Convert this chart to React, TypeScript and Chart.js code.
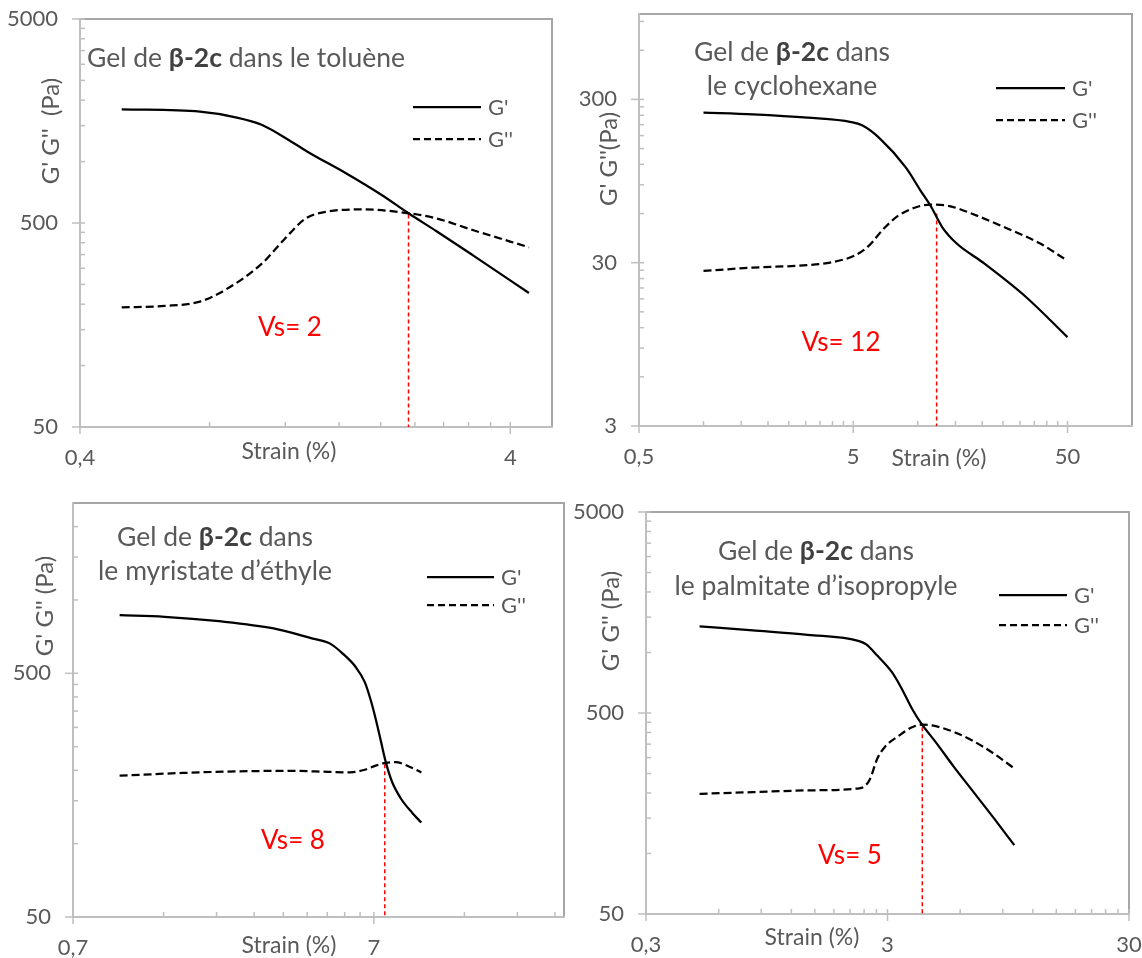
import React, { useEffect, useRef } from 'react';
import { Chart, registerables } from 'chart.js';
Chart.register(...registerables);

const FONT = 'Lato, "Noto Sans", "DejaVu Sans", sans-serif';
const TEXT = '#595959';

// ---------- Panel 1 : toluène ----------
const p1StrainGp = [0.5, 0.76, 0.92, 1.06, 1.24, 1.37, 1.66, 2.01, 2.32, 2.69, 3.27, 4.42];
const p1Gp = [1804, 1756, 1648, 1512, 1252, 1099, 877, 686, 558, 457, 348, 227];
const p1StrainGpp = [0.5, 0.63, 0.76, 0.87, 1.06, 1.19, 1.34, 1.5, 1.82, 2.32, 2.69, 3.27, 4.42];
const p1Gpp = [193, 196, 206, 235, 317, 413, 527, 568, 583, 558, 527, 462, 380];
const p1XTicks = [0.4, 4];
const p1YTicks = [50, 500, 5000];
const p1Vs = { strain: 2.32, top: 550, label: 'Vs= 2' };

// ---------- Panel 2 : cyclohexane ----------
const p2StrainGp = [1.0, 1.7, 3.06, 4.89, 5.5, 6.68, 8.79, 10.3, 11.56, 13.0, 15.2, 20, 32, 50];
const p2Gp = [249, 243, 232, 218, 208, 172, 115, 83, 65.8, 49.6, 39.3, 30.3, 18.5, 10.5];
const p2StrainGpp = [1.0, 1.7, 3.06, 4.02, 5.08, 5.94, 6.95, 8.13, 9.89, 11.56, 14.05, 17.8, 26.2, 37.3, 48.2];
const p2Gpp = [26.7, 28.0, 29.0, 30.3, 33.2, 38.3, 48.6, 58.3, 65.8, 68.0, 66.7, 60, 48.6, 39.3, 31.8];
const p2XTicks = [0.5, 5, 50];
const p2YTicks = [3, 30, 300];
const p2Vs = { strain: 12.25, top: 60, label: 'Vs= 12' };

// ---------- Panel 3 : myristate d'éthyle ----------
const p3StrainGp = [1.0, 1.41, 2.14, 3.25, 4.3, 5.01, 5.52, 6.09, 6.53, 6.81, 7.1, 7.4, 7.67, 8.05, 8.63, 9.38, 10.07];
const p3Gp = [866, 853, 818, 764, 699, 662, 602, 531, 460, 394, 325, 261, 216, 179, 152.5, 134, 122];
const p3StrainGpp = [1.0, 1.62, 2.46, 3.73, 4.94, 5.84, 6.53, 7.1, 7.67, 8.28, 8.87, 10.07];
const p3Gpp = [190, 195, 198, 199, 197, 196, 201, 209, 214.5, 216, 211, 196];
const p3XTicks = [0.7, 7];
const p3YTicks = [50, 500];
const p3Vs = { strain: 7.61, top: 212, label: 'Vs= 8' };

// ---------- Panel 4 : palmitate d'isopropyle ----------
const p4StrainGp = [0.5, 0.83, 1.4, 2.29, 2.45, 2.72, 3.13, 3.41, 3.79, 4.13, 4.75, 5.66, 6.73, 8.3, 10.05];
const p4Gp = [1349, 1288, 1225, 1140, 1097, 966, 798, 672, 525, 445, 358, 269, 206, 149, 110];
const p4StrainGpp = [0.5, 0.83, 1.4, 2.29, 2.41, 2.54, 2.72, 2.92, 3.35, 3.79, 4.21, 4.75, 5.66, 6.73, 8.3, 10.05];
const p4Gpp = [198, 202, 206, 211, 216, 235, 296, 338, 386, 425, 438, 430, 402, 365, 313, 265];
const p4XTicks = [0.3, 3, 30];
const p4YTicks = [50, 500, 5000];
const p4Vs = { strain: 4.18, top: 425, label: 'Vs= 5' };

type Seg = { t: string; bold?: boolean };
type Panel = {
  left: number; top: number; w: number; h: number;
  yAxisW: number; xAxisH: number; padTop: number; padRight: number;
  xMin: number; xMax: number; yMin: number; yMax: number;
  xTicks: number[]; yTicks: number[];
  sGp: number[]; gp: number[]; sGpp: number[]; gpp: number[];
  vs: { strain: number; top: number; label: string };
  title: Seg[][]; titleAlign: 'left' | 'center'; titleX: number; titleY: number[];
  legendX1: number; legendX2: number; legendY: number[];
  yTitle: string; yTitleX: number; yTitleY: number;
  xTitleX: number; xTitleY: number;
  vsX: number; vsY: number;
};

const panels: Panel[] = [
  {
    left: 0, top: 0, w: 571, h: 479, yAxisW: 80, xAxisH: 52, padTop: 19, padRight: 19,
    xMin: 0.4, xMax: 5, yMin: 50, yMax: 5000, xTicks: p1XTicks, yTicks: p1YTicks,
    sGp: p1StrainGp, gp: p1Gp, sGpp: p1StrainGpp, gpp: p1Gpp, vs: p1Vs,
    title: [[{ t: 'Gel de ' }, { t: 'β-2c', bold: true }, { t: ' dans le toluène' }]],
    titleAlign: 'left', titleX: 87, titleY: [58],
    legendX1: 413, legendX2: 481, legendY: [107, 139],
    yTitle: "G' G''  (Pa)", yTitleX: 51, yTitleY: 131,
    xTitleX: 289, xTitleY: 452, vsX: 290, vsY: 328,
  },
  {
    left: 571, top: 0, w: 571, h: 479, yAxisW: 68, xAxisH: 53, padTop: 14, padRight: 10,
    xMin: 0.5, xMax: 100, yMin: 3, yMax: 1000, xTicks: p2XTicks, yTicks: p2YTicks,
    sGp: p2StrainGp, gp: p2Gp, sGpp: p2StrainGpp, gpp: p2Gpp, vs: p2Vs,
    title: [[{ t: 'Gel de ' }, { t: 'β-2c', bold: true }, { t: ' dans' }], [{ t: 'le cyclohexane' }]],
    titleAlign: 'center', titleX: 221, titleY: [52, 86],
    legendX1: 425, legendX2: 494, legendY: [88, 120],
    yTitle: "G' G''(Pa)", yTitleX: 38, yTitleY: 159,
    xTitleX: 368, xTitleY: 459, vsX: 270, vsY: 343,
  },
  {
    left: 0, top: 479, w: 571, h: 479, yAxisW: 73, xAxisH: 41, padTop: 24, padRight: 7,
    xMin: 0.7, xMax: 30, yMin: 50, yMax: 2500, xTicks: p3XTicks, yTicks: p3YTicks,
    sGp: p3StrainGp, gp: p3Gp, sGpp: p3StrainGpp, gpp: p3Gpp, vs: p3Vs,
    title: [[{ t: 'Gel de ' }, { t: 'β-2c', bold: true }, { t: ' dans' }], [{ t: 'le myristate d’éthyle' }]],
    titleAlign: 'center', titleX: 215, titleY: [58, 92],
    legendX1: 427, legendX2: 494, legendY: [98, 126],
    yTitle: "G' G'' (Pa)", yTitleX: 45, yTitleY: 127,
    xTitleX: 289, xTitleY: 467, vsX: 293, vsY: 362,
  },
  {
    left: 571, top: 479, w: 571, h: 479, yAxisW: 75, xAxisH: 44, padTop: 33, padRight: 13,
    xMin: 0.3, xMax: 30, yMin: 50, yMax: 5000, xTicks: p4XTicks, yTicks: p4YTicks,
    sGp: p4StrainGp, gp: p4Gp, sGpp: p4StrainGpp, gpp: p4Gpp, vs: p4Vs,
    title: [[{ t: 'Gel de ' }, { t: 'β-2c', bold: true }, { t: ' dans' }], [{ t: 'le palmitate d’isopropyle' }]],
    titleAlign: 'center', titleX: 245, titleY: [72, 107],
    legendX1: 428, legendX2: 496, legendY: [116, 146],
    yTitle: "G' G'' (Pa)", yTitleX: 40, yTitleY: 142,
    xTitleX: 241, xTitleY: 459, vsX: 279, vsY: 377,
  },
];

const SZ = { title: 26.5, tick: 22, axisTitle: 23, yTitle: 24, legend: 22, vs: 26 };

const fmt = (v: number) => String(v).replace('.', ',');

function minorTicks(majors: number[], min: number, max: number): number[] {
  const out: number[] = [];
  for (const m of majors) {
    for (let k = 2; k <= 9; k++) {
      const v = m * k;
      if (v > min * 1.0001 && v < max * 0.9999) out.push(v);
    }
  }
  return out;
}

function drawRich(ctx: CanvasRenderingContext2D, segs: Seg[], x: number, y: number, align: 'left' | 'center', size: number) {
  const fonts = segs.map((s) => `${s.bold ? 'bold ' : ''}${size}px ${FONT}`);
  const widths = segs.map((s, i) => { ctx.font = fonts[i]; return ctx.measureText(s.t).width; });
  const total = widths.reduce((a, b) => a + b, 0);
  let cx = align === 'center' ? x - total / 2 : x;
  ctx.textAlign = 'left';
  ctx.textBaseline = 'middle';
  segs.forEach((s, i) => {
    ctx.font = fonts[i];
    ctx.fillStyle = s.bold ? '#404040' : TEXT;
    ctx.fillText(s.t, cx, y);
    cx += widths[i];
  });
}

function makePlugin(p: Panel) {
  return {
    id: 'deco',
    beforeDatasetsDraw(chart: any) {
      const { ctx, chartArea: a, scales } = chart;
      const xs = scales.x, ys = scales.y;
      ctx.save();
      ctx.lineWidth = 2;
      ctx.strokeStyle = '#a6a6a6';
      ctx.strokeRect(a.left, a.top, a.right - a.left, a.bottom - a.top);
      ctx.strokeStyle = '#bfbfbf';
      ctx.beginPath();
      ctx.moveTo(a.left, a.top - 1);
      ctx.lineTo(a.left, a.bottom);
      ctx.lineTo(a.right + 1, a.bottom);
      ctx.stroke();
      ctx.lineWidth = 1.5;
      const seg = (x1: number, y1: number, x2: number, y2: number) => {
        ctx.beginPath(); ctx.moveTo(x1, y1); ctx.lineTo(x2, y2); ctx.stroke();
      };
      for (const v of p.yTicks) { const y = ys.getPixelForValue(v); seg(a.left - 8, y, a.left + 5, y); }
      for (const v of minorTicks(p.yTicks, p.yMin, p.yMax)) { const y = ys.getPixelForValue(v); seg(a.left, y, a.left + 5, y); }
      for (const v of p.xTicks) { const x = xs.getPixelForValue(v); seg(x, a.bottom + 7, x, a.bottom - 5); }
      for (const v of minorTicks(p.xTicks, p.xMin, p.xMax)) { const x = xs.getPixelForValue(v); seg(x, a.bottom, x, a.bottom - 5); }
      ctx.restore();
    },
    afterDraw(chart: any) {
      const { ctx } = chart;
      ctx.save();
      p.title.forEach((line, i) => drawRich(ctx, line, p.titleX, p.titleY[i], p.titleAlign, SZ.title));
      ctx.strokeStyle = '#000';
      ctx.lineWidth = 2.25;
      ["G'", "G''"].forEach((name, i) => {
        const y = p.legendY[i];
        ctx.setLineDash(i === 0 ? [] : [7, 4]);
        ctx.beginPath(); ctx.moveTo(p.legendX1, y); ctx.lineTo(p.legendX2, y); ctx.stroke();
        ctx.setLineDash([]);
        ctx.font = `${SZ.legend}px ${FONT}`;
        ctx.fillStyle = TEXT;
        ctx.textAlign = 'left';
        ctx.textBaseline = 'middle';
        ctx.fillText(name, p.legendX2 + 7, y + 1);
      });
      ctx.fillStyle = TEXT;
      ctx.textAlign = 'center';
      ctx.textBaseline = 'middle';
      ctx.font = `${SZ.axisTitle}px ${FONT}`;
      ctx.fillText('Strain (%)', p.xTitleX, p.xTitleY);
      ctx.save();
      ctx.font = `${SZ.yTitle}px ${FONT}`;
      ctx.translate(p.yTitleX, p.yTitleY);
      ctx.rotate(-Math.PI / 2);
      ctx.fillText(p.yTitle, 0, 0);
      ctx.restore();
      ctx.font = `${SZ.vs}px ${FONT}`;
      ctx.fillStyle = '#ff0000';
      ctx.textAlign = 'center';
      ctx.fillText(p.vs.label, p.vsX, p.vsY);
      ctx.restore();
    },
  };
}

function makeConfig(p: Panel): any {
  const zip = (xs: number[], ys: number[]) => xs.map((x, i) => ({ x, y: ys[i] }));
  return {
    type: 'line',
    data: {
      datasets: [
        {
          label: "G'", data: zip(p.sGp, p.gp), borderColor: '#000', borderWidth: 2.25,
          pointRadius: 0, fill: false, cubicInterpolationMode: 'monotone',
        },
        {
          label: "G''", data: zip(p.sGpp, p.gpp), borderColor: '#000', borderWidth: 2.25,
          borderDash: [8, 4], pointRadius: 0, fill: false, cubicInterpolationMode: 'monotone',
        },
        {
          label: 'Vs', data: [{ x: p.vs.strain, y: p.vs.top }, { x: p.vs.strain, y: p.yMin }],
          borderColor: '#ff0000', borderWidth: 1.5, borderDash: [4, 3], pointRadius: 0, tension: 0, fill: false,
        },
      ],
    },
    options: {
      responsive: false,
      animation: false,
      events: [],
      layout: { padding: { top: p.padTop, right: p.padRight, left: 0, bottom: 0 } },
      plugins: { legend: { display: false }, title: { display: false }, tooltip: { enabled: false } },
      scales: {
        x: {
          type: 'logarithmic', position: 'bottom', min: p.xMin, max: p.xMax,
          afterBuildTicks: (s: any) => { s.ticks = p.xTicks.map((v) => ({ value: v })); },
          afterFit: (s: any) => { s.height = p.xAxisH; s.paddingLeft = 0; s.paddingRight = 0; },
          grid: { display: false, drawTicks: false },
          border: { display: false },
          ticks: {
            callback: (v: number) => fmt(v), padding: 18, autoSkip: false, maxRotation: 0, minRotation: 0,
            font: { family: FONT, size: SZ.tick }, color: TEXT,
          },
        },
        y: {
          type: 'logarithmic', position: 'left', min: p.yMin, max: p.yMax,
          afterBuildTicks: (s: any) => { s.ticks = p.yTicks.map((v) => ({ value: v })); },
          afterFit: (s: any) => { s.width = p.yAxisW; s.paddingTop = 0; s.paddingBottom = 0; },
          grid: { display: false, drawTicks: false },
          border: { display: false },
          ticks: {
            callback: (v: number) => fmt(v), padding: 22, autoSkip: false,
            font: { family: FONT, size: SZ.tick }, color: TEXT,
          },
        },
      },
    },
    plugins: [makePlugin(p)],
  };
}

function PanelChart({ p }: { p: Panel }) {
  const ref = useRef<HTMLCanvasElement | null>(null);
  useEffect(() => {
    if (!ref.current) return;
    const chart = new Chart(ref.current, makeConfig(p));
    return () => chart.destroy();
  }, [p]);
  return (
    <canvas
      ref={ref}
      width={p.w}
      height={p.h}
      style={{ position: 'absolute', left: p.left, top: p.top, width: p.w, height: p.h, display: 'block' }}
    />
  );
}

export default function App() {
  return (
    <div style={{ position: 'absolute', left: 0, top: 0, width: 1142, height: 958, background: '#fff', overflow: 'hidden' }}>
      {panels.map((p, i) => <PanelChart key={i} p={p} />)}
    </div>
  );
}
